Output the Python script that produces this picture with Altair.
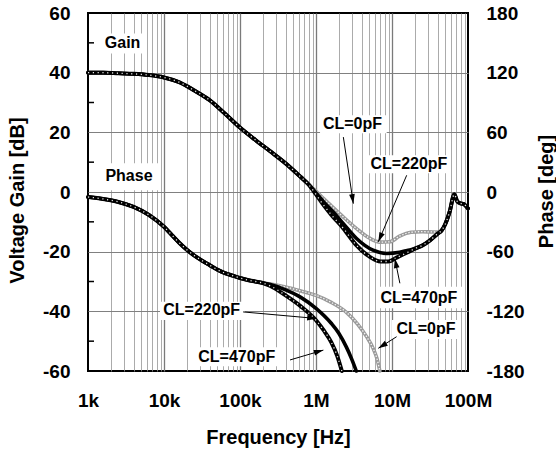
import math
import altair as alt
import pandas as pd

# ---------------- data (frequency stored as log10(Hz)) ----------------
# Voltage gain [dB]
gain_common_lg = [3.0, 3.2, 3.4, 3.6, 3.8, 4.0, 4.2, 4.4, 4.6, 4.8, 5.0, 5.2, 5.4, 5.6, 5.8, 5.9]
gain_common_db = [40.0, 40.0, 39.8, 39.6, 39.2, 38.4, 36.8, 34.0, 30.8, 26.3, 21.6, 17.5, 13.6, 9.6, 5.0, 2.6]
gain_0pf_lg = [6.0, 6.1, 6.2, 6.36, 6.53, 6.7, 6.84, 6.97, 7.1, 7.25, 7.4, 7.55, 7.6]
gain_0pf_db = [0.3, -2.2, -4.6, -8.4, -12.2, -15.4, -16.8, -16.7, -14.8, -13.5, -13.3, -13.4, -13.4]
gain_220pf_lg = [6.0, 6.1, 6.23, 6.36, 6.53, 6.75, 6.93, 7.1, 7.2, 7.3]
gain_220pf_db = [-0.3, -3.3, -6.8, -10.6, -15.5, -19.5, -20.6, -20.2, -19.6, -19.0]
gain_470pf_lg = [6.0, 6.1, 6.2, 6.36, 6.53, 6.7, 6.85, 6.95, 7.06, 7.2, 7.3]
gain_470pf_db = [-0.8, -4.4, -7.6, -12.2, -17.8, -21.6, -23.3, -23.3, -22.0, -20.3, -19.0]
gain_loaded_lg = [7.4, 7.5, 7.6]
gain_loaded_db = [-17.9, -16.2, -14.0]
gain_tail_lg = [7.65, 7.7, 7.76, 7.82, 7.86, 7.9, 7.94, 7.97, 8.0]
gain_tail_db = [-13.0, -10.8, -6.5, -0.8, -3.2, -3.8, -4.0, -4.6, -5.5]

# Phase [deg]
phase_common_lg = [3.0, 3.2, 3.4, 3.6, 3.8, 4.0, 4.1, 4.2, 4.3, 4.4, 4.5, 4.6, 4.7, 4.8, 4.9, 5.0, 5.1, 5.2, 5.3]
phase_common_deg = [-5, -7, -10, -15, -23, -35, -43, -51, -58, -64, -69, -73.5, -78, -81.5, -84, -86.5, -88.5, -90, -91.5]
phase_0pf_lg = [5.4, 5.6, 5.8, 6.0, 6.2, 6.4, 6.55, 6.67, 6.75, 6.8, 6.84]
phase_0pf_deg = [-92.5, -95.5, -99.5, -104, -111, -121, -133, -146, -157, -167, -180]
phase_220pf_lg = [5.4, 5.6, 5.8, 6.0, 6.2, 6.3, 6.4, 6.47, 6.53]
phase_220pf_deg = [-93, -98.5, -106, -117, -132, -142, -156, -168, -180]
phase_470pf_lg = [5.4, 5.6, 5.8, 6.0, 6.1, 6.2, 6.28, 6.34]
phase_470pf_deg = [-94.5, -104, -115, -129, -139, -151, -165, -180]

# Axis ticks
decades = [1000, 10000, 100000, 1000000, 10000000, 100000000]
decade_labels = ["1k", "10k", "100k", "1M", "10M", "100M"]
gain_ticks = [-60, -40, -20, 0, 20, 40, 60]
gain_minor = [-50, -30, -10, 10, 30, 50]
phase_ticks = [-180, -120, -60, 0, 60, 120, 180]

# Annotations (Hz, dB on the gain axis)
note_text = ["Gain", "Phase", "CL=0pF", "CL=220pF", "CL=470pF", "CL=0pF", "CL=220pF", "CL=470pF"]
note_hz = [2.85e3, 3.46e3, 3.02e6, 16.7e6, 22.6e6, 28e6, 31.3e3, 90.6e3]
note_db = [50.0, 5.4, 22.9, 9.3, -35.4, -45.9, -39.6, -55.2]
box_hz_lo = [1.44e3, 1.47e3, 1.13e6, 4.83e6, 6.35e6, 10e6, 8.86e3, 25.6e3]
box_hz_hi = [5.62e3, 8.59e3, 8.51e6, 58e6, 85.9e6, 78.5e6, 116e3, 336e3]
box_db_lo = [46.4, 0.6, 19.7, 6.3, -39.0, -49.3, -42.9, -58.4]
box_db_hi = [53.1, 9.6, 25.7, 12.3, -31.8, -42.9, -36.8, -52.0]
arrow_hz_from = [2.29e6, 15.6e6, 12.7e6, 11.5e6, 110e3, 455e3]
arrow_db_from = [18.4, 5.6, -30.6, -48.5, -40.2, -56.3]
arrow_hz_to = [3.10e6, 6.61e6, 10.9e6, 6.61e6, 1.02e6, 1.25e6]
arrow_db_to = [-3.9, -16.7, -22.3, -52.4, -42.4, -53.0]

# ---------------- layout ----------------
W, H = 380, 358


def series(parts):
    f, v = [], []
    for lg, val in parts:
        f += [10 ** x for x in lg]
        v += list(val)
    return pd.DataFrame({"f": f, "v": v})


g0 = series([(gain_common_lg, gain_common_db), (gain_0pf_lg, gain_0pf_db), (gain_tail_lg, gain_tail_db)])
g220 = series([(gain_common_lg, gain_common_db), (gain_220pf_lg, gain_220pf_db),
               (gain_loaded_lg, gain_loaded_db), (gain_tail_lg, gain_tail_db)])
g470 = series([(gain_common_lg, gain_common_db), (gain_470pf_lg, gain_470pf_db),
               (gain_loaded_lg, gain_loaded_db), (gain_tail_lg, gain_tail_db)])
p0 = series([(phase_common_lg, phase_common_deg), (phase_0pf_lg, phase_0pf_deg)])
p220 = series([(phase_common_lg, phase_common_deg), (phase_220pf_lg, phase_220pf_deg)])
p470 = series([(phase_common_lg, phase_common_deg), (phase_470pf_lg, phase_470pf_deg)])

FONT = "Liberation Sans"
TICK_FS = 19

xscale = alt.Scale(type="log", domain=[1000, 100000000], nice=False)
gscale = alt.Scale(domain=[-60, 60], nice=False, zero=False)
pscale = alt.Scale(domain=[-180, 180], nice=False, zero=False)

grid_values = sorted(decades + [m * 10 ** k for k in range(3, 8) for m in range(2, 10)])
is_decade = " || ".join(f"datum.value == {d}" for d in decades)
is_edge = f"datum.value == {decades[0]} || datum.value == {decades[-1]}"
label_expr = " : ".join(f"datum.value == {d} ? '{l}'" for d, l in zip(decades, decade_labels)) + " : ''"

xaxis = alt.Axis(
    values=grid_values, labelExpr=label_expr, grid=True,
    gridColor={"condition": {"test": is_decade, "value": "#7a7a7a"}, "value": "#959595"},
    gridWidth={"condition": {"test": is_decade, "value": 1.3}, "value": 0.8},
    gridOpacity={"condition": {"test": is_edge, "value": 0}, "value": 1},
    ticks=False, domain=False, labelFlush=False, labelOverlap=False,
    labelPadding=20, labelFontSize=TICK_FS, title="Frequency [Hz]", titleFontSize=20,
    titleY=72, titleBaseline="alphabetic",
)
gaxis = alt.Axis(
    orient="left", values=gain_ticks, labelExpr="'' + datum.value", grid=True,
    gridColor="#808080", gridWidth=1,
    gridOpacity={"condition": {"test": "abs(datum.value) == 60", "value": 0}, "value": 1},
    ticks=False, domain=False, labelPadding=18, labelFontSize=TICK_FS,
    title="Voltage Gain [dB]", titleFontSize=20, titleAngle=270, titleX=-65, titleY=187,
    titleBaseline="alphabetic",
)
paxis = alt.Axis(
    orient="right", values=phase_ticks, labelExpr="'' + datum.value", grid=False,
    ticks=False, domain=False, labelPadding=18, labelAlign="left", labelFontSize=TICK_FS,
    title="Phase [deg]", titleFontSize=20, titleAngle=270, titleX=84, titleY=178,
    titleBaseline="alphabetic",
)


def X():
    return alt.X("f:Q", scale=xscale, axis=xaxis)


def line(df, yscale, yaxis, color, width, dash=None, opacity=1.0):
    kw = dict(color=color, strokeWidth=width, interpolate="monotone", opacity=opacity,
              strokeCap="round", strokeJoin="round")
    if dash:
        kw["strokeDash"] = dash
        kw["strokeCap"] = "butt"
    return alt.Chart(df).mark_line(**kw).encode(
        x=X(), y=alt.Y("v:Q", scale=yscale, axis=yaxis), order="f:Q")


GRAY = "#9a9a9a"


def curve_set(d0, d220, d470, yscale, yaxis):
    return [
        line(d0, yscale, yaxis, GRAY, 3.6),
        line(d0, yscale, yaxis, "white", 1.3, dash=[1.4, 1.8], opacity=0.9),
        line(d220, yscale, yaxis, "black", 3.6),
        line(d470, yscale, yaxis, "black", 4.0),
        line(d470, yscale, yaxis, "white", 1.3, dash=[1.2, 3.6], opacity=0.9),
    ]


phase_group = alt.layer(*curve_set(p0, p220, p470, pscale, paxis))

ticks_df = pd.DataFrame({"v": gain_minor})
ticks_left = alt.Chart(ticks_df).mark_rule(color="black", strokeWidth=1.5).encode(
    y=alt.Y("v:Q", scale=gscale, axis=gaxis), x=alt.value(0), x2=alt.value(6))

boxes_df = pd.DataFrame({"f": box_hz_lo, "f2": box_hz_hi, "v": box_db_lo, "v2": box_db_hi})
boxes = alt.Chart(boxes_df).mark_rect(color="white").encode(
    x=X(), x2="f2:Q", y=alt.Y("v:Q", scale=gscale, axis=gaxis), y2="v2:Q")

notes_df = pd.DataFrame({"f": note_hz, "v": note_db, "t": note_text})
notes = alt.Chart(notes_df).mark_text(font=FONT, fontSize=16, fontWeight="bold", color="black",
                                       align="center", baseline="middle").encode(
    x=X(), y=alt.Y("v:Q", scale=gscale, axis=gaxis), text="t:N")


def px(hz):
    return W * (math.log10(hz) - 3) / 5


def py(db):
    return H * (60 - db) / 120


angles = []
for a, b, c, d in zip(arrow_hz_from, arrow_db_from, arrow_hz_to, arrow_db_to):
    dx, dy = px(c) - px(a), py(d) - py(b)
    angles.append(math.degrees(math.atan2(dx, -dy)) % 360)

arrows_df = pd.DataFrame({"f": arrow_hz_from, "v": arrow_db_from, "f2": arrow_hz_to,
                          "v2": arrow_db_to, "ang": angles})
arrow_lines = alt.Chart(arrows_df).mark_rule(color="black", strokeWidth=1).encode(
    x=X(), x2="f2:Q", y=alt.Y("v:Q", scale=gscale, axis=gaxis), y2="v2:Q")
heads_df = pd.DataFrame({"f": arrow_hz_to, "v": arrow_db_to, "ang": angles})
heads = alt.Chart(heads_df).mark_point(shape="M0,0L0.6,2L-0.6,2Z", filled=True, color="black",
                                       opacity=1, size=90, strokeWidth=0).encode(
    x=X(), y=alt.Y("v:Q", scale=gscale, axis=gaxis), angle=alt.Angle("ang:Q", scale=None))

gain_group = alt.layer(ticks_left, *curve_set(g0, g220, g470, gscale, gaxis),
                       boxes, arrow_lines, heads, notes)

chart = alt.layer(phase_group, gain_group).resolve_scale(y="independent").properties(
    width=W, height=H, autosize="none", background="white",
    padding={"left": 88, "top": 13, "right": 88, "bottom": 81},
).configure_axis(
    labelFont=FONT, titleFont=FONT, labelFontWeight="bold", titleFontWeight="bold",
    labelColor="black", titleColor="black",
).configure_view(stroke="black", strokeWidth=2)

chart.save("out.html", embed_options={"renderer": "svg", "actions": False})
